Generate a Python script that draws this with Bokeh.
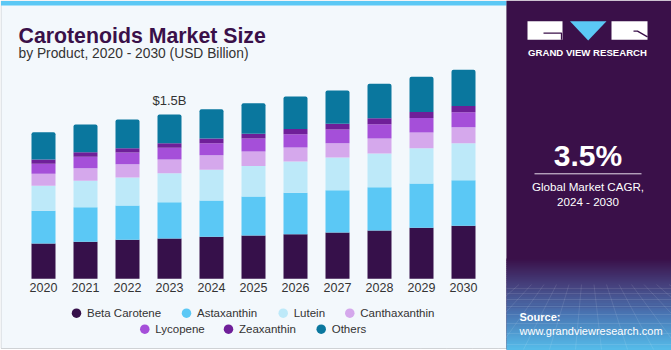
from bokeh.plotting import figure
from bokeh.models import ColumnDataSource, Range1d
from bokeh.transform import stack
from bokeh.embed import file_html
from bokeh.resources import INLINE
from bokeh.core.properties import value

# ---------------- data (USD Billion) ----------------
years = [2020, 2021, 2022, 2023, 2024, 2025, 2026, 2027, 2028, 2029, 2030]
year_labels = ["2020", "2021", "2022", "2023", "2024", "2025", "2026", "2027", "2028", "2029", "2030"]
beta_carotene = [0.322, 0.338, 0.356, 0.368, 0.383, 0.395, 0.407, 0.423, 0.441, 0.466, 0.484]
astaxanthin   = [0.299, 0.316, 0.313, 0.331, 0.331, 0.356, 0.378, 0.386, 0.395, 0.404, 0.416]
lutein        = [0.228, 0.241, 0.256, 0.265, 0.283, 0.280, 0.286, 0.299, 0.308, 0.322, 0.338]
canthaxanthin = [0.110, 0.115, 0.121, 0.125, 0.131, 0.131, 0.128, 0.131, 0.137, 0.143, 0.146]
lycopene      = [0.091, 0.104, 0.107, 0.107, 0.110, 0.119, 0.121, 0.125, 0.131, 0.134, 0.137]
zeaxanthin    = [0.039, 0.042, 0.039, 0.042, 0.043, 0.043, 0.049, 0.052, 0.055, 0.055, 0.058]
others        = [0.249, 0.253, 0.262, 0.262, 0.268, 0.279, 0.295, 0.304, 0.314, 0.322, 0.329]

series_keys = ["beta", "asta", "lutein", "cantha", "lyco", "zeax", "others"]
series_names = ["Beta Carotene", "Astaxanthin", "Lutein", "Canthaxanthin",
                "Lycopene", "Zeaxanthin", "Others"]
series_colors = ["#36104a", "#5bc8f5", "#bde9f9", "#d5a8ec", "#a54fd9", "#6f1f99", "#0a779e"]

annot_year = 2023
annot_text = "$1.5B"

title_text = "Carotenoids Market Size"
subtitle_text = "by Product, 2020 - 2030 (USD Billion)"
cagr_text = "3.5%"
cagr_caption = ["Global Market CAGR,", "2024 - 2030"]
brand_text = "GRAND VIEW RESEARCH"
source_label = "Source:"
source_url = "www.grandviewresearch.com"

# ---------------- figure ----------------
W, H = 671, 350
FONT = "Liberation Sans"
p = figure(width=W, height=H, x_range=Range1d(0, W), y_range=Range1d(H, 0),
           output_backend="svg", toolbar_location=None,
           x_axis_location=None, y_axis_location=None, min_border=0,
           outline_line_color=None, background_fill_color="white",
           border_fill_color="white")
p.grid.visible = False

# bar scales: 2020 centred at 43px, 42px per year; 0 at 278.3px, 109.5px per billion
p.extra_x_ranges = {"yr": Range1d(2020 - 43 / 42, 2020 - 43 / 42 + W / 42)}
p.extra_y_ranges = {"val": Range1d(-(H - 278.3) / 109.5, 278.3 / 109.5)}

# ---------------- background card ----------------
p.quad(left=[0.5], right=[506], top=[0.5], bottom=[348], fill_color="#f3f8fc",
       line_color="#cfd2d5", line_width=1)
p.quad(left=[0.5], right=[506], top=[0.5], bottom=[5], fill_color="#5bc8f5", line_color=None)

# ---------------- right panel ----------------
p.quad(left=[506], right=[W], top=[0], bottom=[349], fill_color="#3a1049", line_color=None)


def hex2rgb(h):
    return tuple(int(h[i:i + 2], 16) for i in (1, 3, 5))


stops = [(258, "#3a1049"), (284, "#46407c"), (315, "#4a78b6"), (349, "#56bcea")]
gl, gr, gt, gb, gc = [], [], [], [], []
for (y0, c0), (y1, c1) in zip(stops[:-1], stops[1:]):
    n = int((y1 - y0) / 2)
    a, b = hex2rgb(c0), hex2rgb(c1)
    for k in range(n):
        t = (k + 0.5) / n
        col = "#%02x%02x%02x" % tuple(int(a[j] + (b[j] - a[j]) * t) for j in range(3))
        gl.append(506); gr.append(W)
        gt.append(y0 + (y1 - y0) * k / n); gb.append(y0 + (y1 - y0) * (k + 1) / n + 0.6)
        gc.append(col)
p.quad(left=gl, right=gr, top=gt, bottom=gb, fill_color=gc, line_color=None)

# faint perspective grid in the panel footer
gx0, gx1, gy0, gy1 = [], [], [], []
for i in range(14):
    gx0.append(506 + i * 12.5); gy0.append(284)
    gx1.append(506 + (i - 6.5) * 26 + 82); gy1.append(349)
p.segment(x0=gx0, y0=gy0, x1=gx1, y1=gy1, line_color="white", line_alpha=0.13, line_width=0.8)
hy = [288, 293, 299, 306, 314, 323, 333, 344]
p.segment(x0=[506] * len(hy), y0=hy, x1=[W] * len(hy), y1=hy,
          line_color="white", line_alpha=0.13, line_width=0.8)

# logo
p.quad(left=[527, 611], right=[562, 647], top=[20.7, 20.7], bottom=[39.3, 39.3],
       fill_color="white", line_color=None)
p.patch(x=[569.5, 606, 587.7], y=[20.7, 20.7, 40], fill_color="#5bc8f5", line_color=None)
p.line(x=[543, 561, 561], y=[32.6, 32.6, 39.3], line_color="#3a1049", line_width=1.3)
p.line(x=[633, 637, 647], y=[30.6, 30.6, 36.4], line_color="#3a1049", line_width=1.3)
p.text(x=[587], y=[51.7], text=[brand_text], text_font=value(FONT), text_font_style="bold",
       text_font_size="9.6px", text_color="white", text_align="center", text_baseline="middle")

p.text(x=[587.5], y=[154.5], text=[cagr_text], text_font=value(FONT), text_font_style="bold",
       text_font_size="30px", text_color="white", text_align="center", text_baseline="middle")
p.segment(x0=[534], y0=[173.3], x1=[641], y1=[173.3], line_color="#e6dcea", line_width=1)
p.text(x=[587.5, 587.5], y=[185.5, 201], text=cagr_caption, text_font=value(FONT),
       text_font_size="11.6px", text_color="white", text_align="center", text_baseline="middle")

p.text(x=[519], y=[316.7], text=[source_label], text_font=value(FONT),
       text_font_style="bold", text_font_size="11px", text_color="white",
       text_align="left", text_baseline="middle")
p.text(x=[519], y=[330.5], text=[source_url], text_font=value(FONT),
       text_font_size="11px", text_color="white",
       text_align="left", text_baseline="middle")

# ---------------- titles ----------------
p.text(x=[18], y=[35], text=[title_text], text_font=value(FONT), text_font_style="bold",
       text_font_size="21.3px", text_color="#3a1049", text_baseline="alphabetic")
p.text(x=[18], y=[53.3], text=[subtitle_text], text_font=value(FONT),
       text_font_size="13.8px", text_color="#333333", text_baseline="alphabetic")

# ---------------- stacked bars ----------------
src = ColumnDataSource(dict(year=years, label=year_labels, beta=beta_carotene, asta=astaxanthin,
                            lutein=lutein, cantha=canthaxanthin, lyco=lycopene,
                            zeax=zeaxanthin, others=others))
BW = 24 / 42
p.vbar_stack(series_keys[:6], x="year", width=BW, source=src, fill_color=series_colors[:6],
             line_color=None, x_range_name="yr", y_range_name="val")
p.vbar(x="year", width=BW, bottom=stack(*series_keys[:6]), top=stack(*series_keys), source=src,
       fill_color=series_colors[6], line_color=None, border_radius=(2, 2, 0, 0),
       x_range_name="yr", y_range_name="val")

idx = years.index(annot_year)
annot_total = sum(s[idx] for s in [beta_carotene, astaxanthin, lutein, canthaxanthin,
                                    lycopene, zeaxanthin, others])
p.text(x=[annot_year], y=[annot_total], text=[annot_text], text_font=value(FONT),
       text_font_size="13px", text_color="#333333", text_align="center",
       text_baseline="middle", y_offset=-14, x_range_name="yr", y_range_name="val")

# year labels under the bars
p.text(x="year", y=287.3, text="label", source=src, text_font=value(FONT),
       text_font_size="12.5px", text_color="#333333", text_align="center",
       text_baseline="middle", x_range_name="yr")

# ---------------- legend ----------------
leg_marker_x = [76, 186, 282.7, 349.3, 144.3, 228, 320.7]
leg_y = [312.7, 312.7, 312.7, 312.7, 328.7, 328.7, 328.7]
p.scatter(x=leg_marker_x, y=leg_y, marker="circle", size=9.5, fill_color=series_colors,
          line_color=None)
p.text(x=[x + 10.5 for x in leg_marker_x], y=leg_y, text=series_names, text_font=value(FONT),
       text_font_size="11.5px", text_color="#333333", text_align="left",
       text_baseline="middle")

open("out.html", "w").write(file_html(p, INLINE))
